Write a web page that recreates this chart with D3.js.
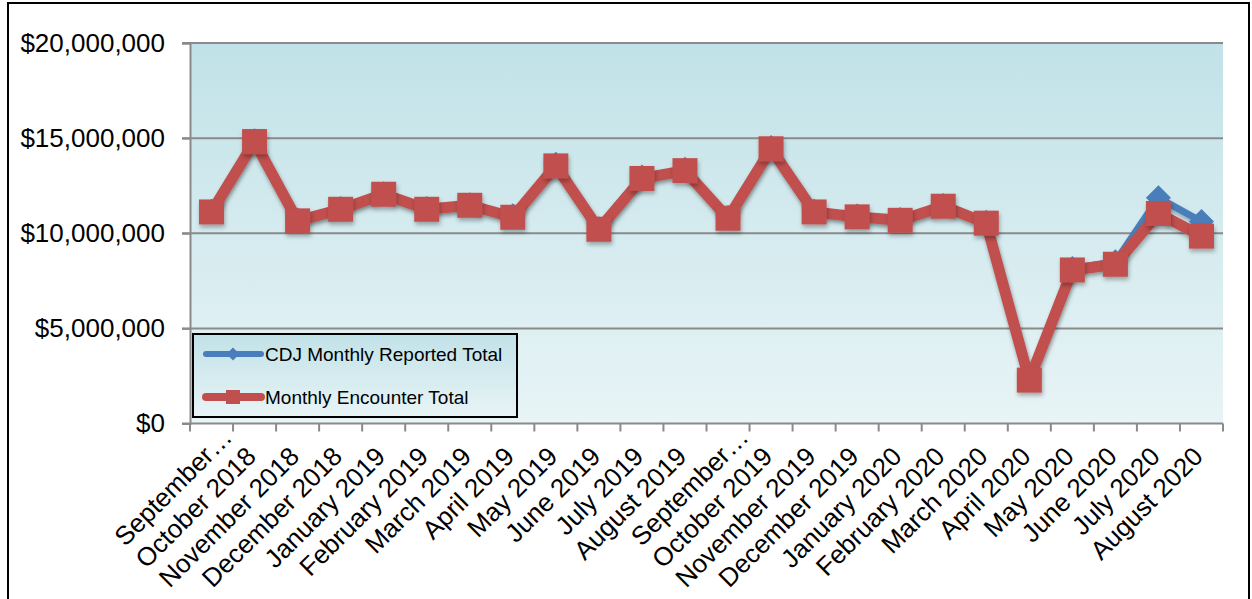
<!DOCTYPE html>
<html>
<head>
<meta charset="utf-8">
<script src="https://cdn.jsdelivr.net/npm/d3@7"></script>
<style>
  body { margin: 0; background: #fff; }
  svg { display: block; font-family: "Liberation Sans", Arial, sans-serif; }
</style>
</head>
<body>
<script>
let months = ["September…", "October 2018", "November 2018", "December 2018", "January 2019",
  "February 2019", "March 2019", "April 2019", "May 2019", "June 2019", "July 2019", "August 2019",
  "September…", "October 2019", "November 2019", "December 2019", "January 2020", "February 2020",
  "March 2020", "April 2020", "May 2020", "June 2020", "July 2020", "August 2020"];

let cdjReported = [11.15, 14.86, 10.68, 11.3, 12.08, 11.3, 11.5, 10.92, 13.62, 10.24, 12.96, 13.36,
  10.82, 14.5, 11.15, 10.9, 10.72, 11.46, 10.58, 2.3, 8.15, 8.5, 11.86, 10.62];

let encounterTotal = [11.12, 14.82, 10.65, 11.26, 12.05, 11.26, 11.47, 10.84, 13.54, 10.21, 12.88, 13.29,
  10.79, 14.44, 11.12, 10.86, 10.68, 11.42, 10.53, 2.28, 8.07, 8.37, 11.04, 9.85];

let yTicks = [0, 5000000, 10000000, 15000000, 20000000];
let seriesNames = ["CDJ Monthly Reported Total", "Monthly Encounter Total"];

let svg = d3.select("body").append("svg")
  .attr("width", 1252)
  .attr("height", 599);

let defs = svg.append("defs");
let bg = defs.append("linearGradient").attr("id", "bg")
  .attr("x1", 0).attr("y1", 0).attr("x2", 0).attr("y2", 1);
bg.append("stop").attr("offset", "0%").attr("stop-color", "#c1e2e8");
bg.append("stop").attr("offset", "100%").attr("stop-color", "#e8f4f6");

let shadow = defs.append("filter").attr("id", "shadow")
  .attr("x", "-30%").attr("y", "-30%").attr("width", "160%").attr("height", "160%");
shadow.append("feDropShadow")
  .attr("dx", 1).attr("dy", 3).attr("stdDeviation", 2)
  .attr("flood-color", "#000").attr("flood-opacity", 0.3);

// outer frame
svg.append("rect")
  .attr("x", 8).attr("y", 3)
  .attr("width", 1241).attr("height", 620)
  .attr("fill", "none").attr("stroke", "#000").attr("stroke-width", 2);

let x = d3.scaleBand()
  .domain(d3.range(months.length))
  .range([190, 1223])
  .padding(0);

let y = d3.scaleLinear()
  .domain([0, 20000000])
  .range([423.5, 43]);

// plot background
svg.append("rect")
  .attr("x", x.range()[0]).attr("y", y(20000000))
  .attr("width", x.range()[1] - x.range()[0])
  .attr("height", y(0) - y(20000000))
  .attr("fill", "url(#bg)");

// gridlines
yTicks.forEach(t =>
  svg.append("line")
    .attr("x1", 182).attr("x2", x.range()[1])
    .attr("y1", y(t)).attr("y2", y(t))
    .attr("stroke", "#8a8a8a").attr("stroke-width", 2)
);

// y axis
let yAxis = svg.append("g")
  .attr("transform", "translate(190,0)")
  .call(d3.axisLeft(y).tickValues(yTicks).tickFormat(d3.format("$,")).tickSize(8).tickPadding(17));
yAxis.select(".domain").attr("stroke", "#8a8a8a").attr("stroke-width", 2);
yAxis.selectAll(".tick line").attr("stroke", "#8a8a8a").attr("stroke-width", 2);
yAxis.selectAll("text").attr("font-size", 26).attr("fill", "#000")
  .attr("font-family", "Liberation Sans, Arial, sans-serif");

// x axis tick marks at band edges
let edges = months.map((m, i) => x(i)).concat([x.range()[1]]);
edges.forEach(e =>
  svg.append("line")
    .attr("x1", e).attr("x2", e)
    .attr("y1", y(0)).attr("y2", y(0) + 8)
    .attr("stroke", "#8a8a8a").attr("stroke-width", 2)
);

// x labels (truncated ones sit further along their baseline)
months.forEach((m, i) => {
  let cx = x(i) + x.bandwidth() / 2;
  svg.append("text")
    .attr("transform", "translate(" + (cx + 3) + ",458) rotate(-45)")
    .attr("text-anchor", "end")
    .attr("dx", m.endsWith("…") ? 27 : 0)
    .attr("font-size", 26)
    .attr("fill", "#000")
    .text(m);
});

let line = d3.line()
  .x((d, i) => x(i) + x.bandwidth() / 2)
  .y(d => y(d * 1000000));

let blue = "#4a7ebb";
let red = "#c0504d";

// CDJ reported series
svg.append("path")
  .datum(cdjReported)
  .attr("d", line)
  .attr("fill", "none")
  .attr("stroke", blue)
  .attr("stroke-width", 7)
  .attr("stroke-linejoin", "round")
  .attr("filter", "url(#shadow)");

let diamond = d3.symbol().type(d3.symbolDiamond2).size(400);
svg.selectAll(".cdj")
  .data(cdjReported)
  .enter()
  .append("path")
  .attr("class", "cdj")
  .attr("transform", (d, i) => "translate(" + (x(i) + x.bandwidth() / 2) + "," + y(d * 1000000) + ")")
  .attr("d", diamond)
  .attr("fill", blue);

// encounter series
svg.append("path")
  .datum(encounterTotal)
  .attr("d", line)
  .attr("fill", "none")
  .attr("stroke", red)
  .attr("stroke-width", 11)
  .attr("stroke-linejoin", "round")
  .attr("filter", "url(#shadow)");

svg.selectAll(".enc")
  .data(encounterTotal)
  .enter()
  .append("rect")
  .attr("class", "enc")
  .attr("x", (d, i) => x(i) + x.bandwidth() / 2 - 12.5)
  .attr("y", d => y(d * 1000000) - 12.5)
  .attr("width", 25)
  .attr("height", 25)
  .attr("fill", red)
  .attr("filter", "url(#shadow)");

// legend
let legend = svg.append("g");
legend.append("rect")
  .attr("x", 193).attr("y", 334)
  .attr("width", 324).attr("height", 83)
  .attr("fill", "url(#bg)")
  .attr("stroke", "#000").attr("stroke-width", 2);

let legendY = [354, 397];
let legendColors = [blue, red];
seriesNames.forEach((name, i) => {
  legend.append("line")
    .attr("x1", 206).attr("x2", 261)
    .attr("y1", legendY[i]).attr("y2", legendY[i])
    .attr("stroke", legendColors[i])
    .attr("stroke-width", i == 0 ? 6 : 8)
    .attr("stroke-linecap", "round");
  if (i == 0) {
    legend.append("path")
      .attr("transform", "translate(233," + legendY[i] + ")")
      .attr("d", d3.symbol().type(d3.symbolDiamond2).size(110))
      .attr("fill", blue);
  } else {
    legend.append("rect")
      .attr("x", 226).attr("y", legendY[i] - 7)
      .attr("width", 14).attr("height", 14)
      .attr("fill", red);
  }
  legend.append("text")
    .attr("x", 265).attr("y", legendY[i])
    .attr("dy", "0.35em")
    .attr("font-size", 19)
    .attr("fill", "#000")
    .text(name);
});
</script>
</body>
</html>
